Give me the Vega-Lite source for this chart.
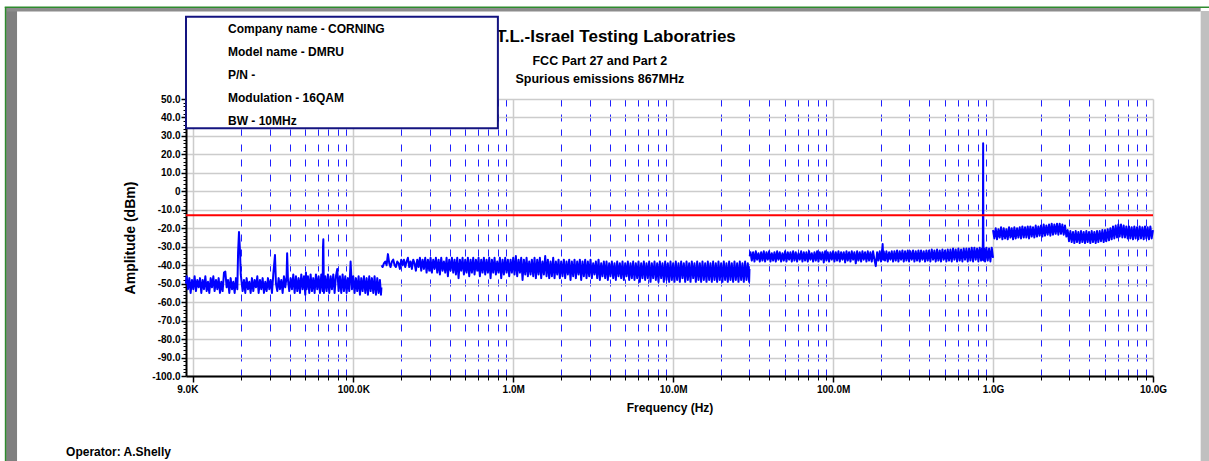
{
"$schema": "https://vega.github.io/schema/vega-lite/v6.json",
"width": 967,
"height": 277,
"autosize": {"type": "none"},
"padding": {"left": 186, "top": 99, "right": 56, "bottom": 85},
"background": "#ffffff",
"config": {"view": {"stroke": null}, "font": "Liberation Sans"},
"datasets": {
"trace": [
{"f":9000,"a":-50,"s":1},{"f":9085,"a":-46,"s":1},{"f":9261,"a":-53,"s":1},{"f":9441,"a":-47,"s":1},{"f":9624,"a":-55,"s":1},{"f":9810,"a":-48,"s":1},{"f":10000,"a":-53,"s":1},{"f":10190,"a":-46,"s":1},{"f":10390,"a":-54,"s":1},{"f":10590,"a":-48,"s":1},{"f":10800,"a":-52,"s":1},{"f":11010,"a":-47,"s":1},{"f":11220,"a":-55,"s":1},{"f":11440,"a":-48,"s":1},{"f":11660,"a":-53,"s":1},{"f":11890,"a":-46,"s":1},{"f":12120,"a":-54,"s":1},{"f":12350,"a":-49,"s":1},{"f":12590,"a":-55,"s":1},{"f":12840,"a":-47,"s":1},{"f":13080,"a":-52,"s":1},{"f":13340,"a":-46,"s":1},{"f":13590,"a":-54,"s":1},{"f":13860,"a":-48,"s":1},{"f":14130,"a":-53,"s":1},{"f":14400,"a":-47,"s":1},{"f":14680,"a":-55,"s":1},{"f":14960,"a":-49,"s":1},{"f":15250,"a":-54,"s":1},{"f":15550,"a":-44,"s":1},{"f":15850,"a":-43.5,"s":1},{"f":16160,"a":-52,"s":1},{"f":16470,"a":-48,"s":1},{"f":16790,"a":-55,"s":1},{"f":17110,"a":-47,"s":1},{"f":17450,"a":-53,"s":1},{"f":17780,"a":-49,"s":1},{"f":18130,"a":-55,"s":1},{"f":18480,"a":-47,"s":1},{"f":18840,"a":-53,"s":1},{"f":19050,"a":-33,"s":1},{"f":19300,"a":-22,"s":1},{"f":19550,"a":-31,"s":1},{"f":19800,"a":-45,"s":1},{"f":20340,"a":-54,"s":1},{"f":20730,"a":-48,"s":1},{"f":21130,"a":-55,"s":1},{"f":21540,"a":-47,"s":1},{"f":21960,"a":-53,"s":1},{"f":22390,"a":-49,"s":1},{"f":22820,"a":-55,"s":1},{"f":23260,"a":-47,"s":1},{"f":23710,"a":-54,"s":1},{"f":24170,"a":-48,"s":1},{"f":24640,"a":-52,"s":1},{"f":25120,"a":-46,"s":1},{"f":25610,"a":-55,"s":1},{"f":26100,"a":-48,"s":1},{"f":26610,"a":-53,"s":1},{"f":27120,"a":-47,"s":1},{"f":27650,"a":-55,"s":1},{"f":28180,"a":-49,"s":1},{"f":28730,"a":-54,"s":1},{"f":29290,"a":-47,"s":1},{"f":29850,"a":-53,"s":1},{"f":30430,"a":-48,"s":1},{"f":31020,"a":-55,"s":1},{"f":31620,"a":-45,"s":1},{"f":32000,"a":-40,"s":1},{"f":32400,"a":-34.5,"s":1},{"f":32860,"a":-50,"s":1},{"f":33500,"a":-54,"s":1},{"f":34150,"a":-47,"s":1},{"f":34810,"a":-53,"s":1},{"f":35480,"a":-48,"s":1},{"f":36170,"a":-55,"s":1},{"f":36870,"a":-46,"s":1},{"f":37580,"a":-52,"s":1},{"f":38310,"a":-46,"s":1},{"f":38600,"a":-33.5,"s":1},{"f":39050,"a":-48,"s":1},{"f":39810,"a":-54,"s":1},{"f":40580,"a":-47,"s":1},{"f":41370,"a":-53,"s":1},{"f":42170,"a":-45,"s":1},{"f":42990,"a":-55,"s":1},{"f":43820,"a":-46,"s":1},{"f":44670,"a":-54,"s":1},{"f":45530,"a":-47,"s":1},{"f":46420,"a":-55,"s":1},{"f":47320,"a":-45,"s":1},{"f":48230,"a":-53,"s":1},{"f":49170,"a":-46,"s":1},{"f":50120,"a":-56,"s":1},{"f":50600,"a":-44,"s":1},{"f":51090,"a":-53,"s":1},{"f":52080,"a":-46,"s":1},{"f":53090,"a":-55,"s":1},{"f":54120,"a":-45,"s":1},{"f":55170,"a":-54,"s":1},{"f":56230,"a":-47,"s":1},{"f":57320,"a":-55,"s":1},{"f":58430,"a":-45,"s":1},{"f":59570,"a":-53,"s":1},{"f":60720,"a":-46,"s":1},{"f":61900,"a":-55,"s":1},{"f":63100,"a":-45,"s":1},{"f":64320,"a":-54,"s":1},{"f":64700,"a":-30,"s":1},{"f":65000,"a":-26,"s":1},{"f":65300,"a":-44,"s":1},{"f":65560,"a":-55,"s":1},{"f":66830,"a":-46,"s":1},{"f":68130,"a":-54,"s":1},{"f":69450,"a":-45,"s":1},{"f":70790,"a":-55,"s":1},{"f":72170,"a":-46,"s":1},{"f":73560,"a":-53,"s":1},{"f":74990,"a":-45,"s":1},{"f":76440,"a":-55,"s":1},{"f":77920,"a":-46,"s":1},{"f":79430,"a":-42,"s":1},{"f":80970,"a":-54,"s":1},{"f":82540,"a":-46,"s":1},{"f":84140,"a":-55,"s":1},{"f":85770,"a":-45,"s":1},{"f":87430,"a":-54,"s":1},{"f":89130,"a":-46,"s":1},{"f":90850,"a":-55,"s":1},{"f":92610,"a":-47,"s":1},{"f":94410,"a":-54,"s":1},{"f":96240,"a":-38,"s":1},{"f":98100,"a":-53,"s":1},{"f":100000,"a":-46,"s":1},{"f":101900,"a":-55,"s":1},{"f":103900,"a":-47,"s":1},{"f":105900,"a":-54,"s":1},{"f":108000,"a":-46,"s":1},{"f":110100,"a":-56,"s":1},{"f":112200,"a":-47,"s":1},{"f":114400,"a":-54,"s":1},{"f":116600,"a":-46,"s":1},{"f":118900,"a":-55,"s":1},{"f":121200,"a":-47,"s":1},{"f":123500,"a":-56,"s":1},{"f":125900,"a":-46,"s":1},{"f":128400,"a":-54,"s":1},{"f":130800,"a":-47,"s":1},{"f":133400,"a":-55,"s":1},{"f":135900,"a":-46,"s":1},{"f":138600,"a":-56,"s":1},{"f":141300,"a":-47,"s":1},{"f":144000,"a":-55,"s":1},{"f":146800,"a":-48,"s":1},{"f":149000,"a":-56,"s":1},{"f":150000,"a":-52,"s":1},
{"f":150500,"a":-40,"s":2},{"f":152500,"a":-41,"s":2},{"f":155500,"a":-39,"s":2},{"f":158500,"a":-38,"s":2},{"f":161600,"a":-40,"s":2},{"f":164700,"a":-34,"s":2},{"f":167900,"a":-39,"s":2},{"f":171100,"a":-41,"s":2},{"f":174400,"a":-38,"s":2},{"f":177800,"a":-37,"s":2},{"f":181300,"a":-40,"s":2},{"f":184800,"a":-41,"s":2},{"f":188400,"a":-38,"s":2},{"f":192000,"a":-39,"s":2},{"f":195700,"a":-42,"s":2},{"f":199500,"a":-37,"s":2},{"f":203400,"a":-40,"s":2},{"f":207300,"a":-37,"s":2},{"f":211300,"a":-41,"s":2},{"f":215400,"a":-38,"s":2},{"f":219600,"a":-36,"s":2},{"f":223900,"a":-41,"s":2},{"f":228200,"a":-38,"s":2},{"f":232600,"a":-42,"s":2},{"f":237100,"a":-37,"s":2},{"f":241700,"a":-39,"s":2},{"f":246400,"a":-43,"s":2},{"f":251200,"a":-37,"s":2},{"f":256100,"a":-41,"s":2},{"f":261000,"a":-36,"s":2},{"f":266100,"a":-43,"s":2},{"f":271200,"a":-37,"s":2},{"f":276500,"a":-42,"s":2},{"f":281800,"a":-36,"s":2},{"f":287300,"a":-44,"s":2},{"f":292900,"a":-37,"s":2},{"f":298500,"a":-43,"s":2},{"f":304300,"a":-36,"s":2},{"f":310200,"a":-44,"s":2},{"f":316200,"a":-37,"s":2},{"f":322400,"a":-42,"s":2},{"f":328600,"a":-36,"s":2},{"f":335000,"a":-44,"s":2},{"f":341500,"a":-37,"s":2},{"f":348100,"a":-45,"s":2},{"f":354800,"a":-36,"s":2},{"f":361700,"a":-43,"s":2},{"f":368700,"a":-38,"s":2},{"f":375800,"a":-44,"s":2},{"f":383100,"a":-36,"s":2},{"f":390500,"a":-46,"s":2},{"f":398100,"a":-37,"s":2},{"f":405800,"a":-43,"s":2},{"f":413700,"a":-36,"s":2},{"f":421700,"a":-44,"s":2},{"f":429900,"a":-37,"s":2},{"f":438200,"a":-45,"s":2},{"f":446700,"a":-36,"s":2},{"f":455300,"a":-47,"s":2},{"f":464200,"a":-37,"s":2},{"f":473200,"a":-43,"s":2},{"f":482300,"a":-36,"s":2},{"f":491700,"a":-45,"s":2},{"f":501200,"a":-37,"s":2},{"f":510900,"a":-44,"s":2},{"f":520800,"a":-36,"s":2},{"f":530900,"a":-46,"s":2},{"f":541200,"a":-37,"s":2},{"f":551700,"a":-44,"s":2},{"f":562300,"a":-36,"s":2},{"f":573200,"a":-45,"s":2},{"f":584300,"a":-37,"s":2},{"f":595700,"a":-43,"s":2},{"f":607200,"a":-36,"s":2},{"f":619000,"a":-46,"s":2},{"f":631000,"a":-37,"s":2},{"f":643200,"a":-44,"s":2},{"f":655600,"a":-36,"s":2},{"f":668300,"a":-45,"s":2},{"f":681300,"a":-37,"s":2},{"f":694500,"a":-44,"s":2},{"f":707900,"a":-36,"s":2},{"f":721700,"a":-47,"s":2},{"f":735600,"a":-37,"s":2},{"f":749900,"a":-44,"s":2},{"f":764400,"a":-36,"s":2},{"f":779200,"a":-45,"s":2},{"f":794300,"a":-38,"s":2},{"f":809700,"a":-44,"s":2},{"f":825400,"a":-36,"s":2},{"f":841400,"a":-47,"s":2},{"f":857700,"a":-37,"s":2},{"f":874300,"a":-45,"s":2},{"f":891300,"a":-36,"s":2},{"f":908500,"a":-44,"s":2},{"f":926100,"a":-37,"s":2},{"f":944100,"a":-46,"s":2},{"f":962400,"a":-37,"s":2},{"f":981000,"a":-44,"s":2},
{"f":1000000,"a":-36,"s":2},{"f":1019000,"a":-45,"s":2},{"f":1039000,"a":-35,"s":2},{"f":1059000,"a":-46,"s":2},{"f":1080000,"a":-37,"s":2},{"f":1101000,"a":-44,"s":2},{"f":1122000,"a":-36,"s":2},{"f":1144000,"a":-48,"s":2},{"f":1166000,"a":-37,"s":2},{"f":1189000,"a":-45,"s":2},{"f":1212000,"a":-36,"s":2},{"f":1235000,"a":-46,"s":2},{"f":1259000,"a":-38,"s":2},{"f":1284000,"a":-45,"s":2},{"f":1308000,"a":-37,"s":2},{"f":1334000,"a":-46,"s":2},{"f":1359000,"a":-36,"s":2},{"f":1386000,"a":-47,"s":2},{"f":1413000,"a":-37,"s":2},{"f":1440000,"a":-45,"s":2},{"f":1468000,"a":-36,"s":2},{"f":1496000,"a":-47,"s":2},{"f":1525000,"a":-38,"s":2},{"f":1555000,"a":-45,"s":2},{"f":1585000,"a":-35,"s":2},{"f":1616000,"a":-46,"s":2},{"f":1647000,"a":-37,"s":2},{"f":1679000,"a":-47,"s":2},{"f":1711000,"a":-38,"s":2},{"f":1745000,"a":-46,"s":2},{"f":1778000,"a":-36,"s":2},{"f":1813000,"a":-47,"s":2},{"f":1848000,"a":-38,"s":2},{"f":1884000,"a":-45,"s":2},{"f":1920000,"a":-37,"s":2},{"f":1957000,"a":-47,"s":2},{"f":1995000,"a":-38,"s":2},{"f":2034000,"a":-46,"s":2},{"f":2073000,"a":-37,"s":2},{"f":2113000,"a":-47,"s":2},{"f":2154000,"a":-38,"s":2},{"f":2196000,"a":-45,"s":2},{"f":2239000,"a":-37,"s":2},{"f":2282000,"a":-48,"s":2},{"f":2326000,"a":-38,"s":2},{"f":2371000,"a":-46,"s":2},{"f":2417000,"a":-37,"s":2},{"f":2464000,"a":-47,"s":2},{"f":2512000,"a":-38,"s":2},{"f":2561000,"a":-45,"s":2},{"f":2610000,"a":-37,"s":2},{"f":2661000,"a":-48,"s":2},{"f":2712000,"a":-38,"s":2},{"f":2765000,"a":-46,"s":2},{"f":2818000,"a":-37,"s":2},{"f":2873000,"a":-47,"s":2},{"f":2929000,"a":-38,"s":2},{"f":2985000,"a":-46,"s":2},{"f":3043000,"a":-37,"s":2},{"f":3102000,"a":-47,"s":2},{"f":3162000,"a":-39,"s":2},{"f":3224000,"a":-45,"s":2},{"f":3286000,"a":-38,"s":2},{"f":3350000,"a":-47,"s":2},{"f":3415000,"a":-37,"s":2},{"f":3481000,"a":-48,"s":2},{"f":3548000,"a":-39,"s":2},{"f":3617000,"a":-46,"s":2},{"f":3687000,"a":-38,"s":2},{"f":3758000,"a":-47,"s":2},{"f":3831000,"a":-38,"s":2},{"f":3905000,"a":-48,"s":2},{"f":3981000,"a":-39,"s":2},{"f":4058000,"a":-46,"s":2},{"f":4137000,"a":-38,"s":2},{"f":4217000,"a":-47,"s":2},{"f":4299000,"a":-39,"s":2},{"f":4382000,"a":-48,"s":2},{"f":4467000,"a":-38,"s":2},{"f":4553000,"a":-46,"s":2},{"f":4642000,"a":-39,"s":2},{"f":4732000,"a":-47,"s":2},{"f":4823000,"a":-38,"s":2},{"f":4917000,"a":-48,"s":2},{"f":5012000,"a":-39,"s":2},{"f":5109000,"a":-46,"s":2},{"f":5208000,"a":-38,"s":2},{"f":5309000,"a":-48,"s":2},{"f":5412000,"a":-39,"s":2},{"f":5517000,"a":-47,"s":2},{"f":5623000,"a":-38,"s":2},{"f":5732000,"a":-48,"s":2},{"f":5843000,"a":-39,"s":2},{"f":5957000,"a":-47,"s":2},{"f":6072000,"a":-38,"s":2},{"f":6190000,"a":-49,"s":2},{"f":6310000,"a":-39,"s":2},{"f":6432000,"a":-47,"s":2},{"f":6556000,"a":-38,"s":2},{"f":6683000,"a":-48,"s":2},{"f":6813000,"a":-39,"s":2},{"f":6945000,"a":-47,"s":2},{"f":7079000,"a":-38,"s":2},{"f":7217000,"a":-49,"s":2},{"f":7356000,"a":-39,"s":2},{"f":7499000,"a":-47,"s":2},{"f":7644000,"a":-38,"s":2},{"f":7792000,"a":-48,"s":2},{"f":7943000,"a":-39,"s":2},{"f":8097000,"a":-49,"s":2},{"f":8254000,"a":-38,"s":2},{"f":8414000,"a":-47,"s":2},{"f":8577000,"a":-39,"s":2},{"f":8743000,"a":-49,"s":2},{"f":8913000,"a":-38,"s":2},{"f":9085000,"a":-48,"s":2},{"f":9261000,"a":-39,"s":2},{"f":9441000,"a":-49,"s":2},{"f":9624000,"a":-38,"s":2},{"f":9810000,"a":-48,"s":2},
{"f":10000000,"a":-39,"s":2},{"f":10190000,"a":-49,"s":2},{"f":10390000,"a":-38,"s":2},{"f":10590000,"a":-48,"s":2},{"f":10800000,"a":-39,"s":2},{"f":11010000,"a":-49,"s":2},{"f":11220000,"a":-38,"s":2},{"f":11440000,"a":-47,"s":2},{"f":11660000,"a":-39,"s":2},{"f":11890000,"a":-49,"s":2},{"f":12120000,"a":-38,"s":2},{"f":12350000,"a":-48,"s":2},{"f":12590000,"a":-39,"s":2},{"f":12840000,"a":-49,"s":2},{"f":13080000,"a":-38,"s":2},{"f":13340000,"a":-47,"s":2},{"f":13590000,"a":-39,"s":2},{"f":13860000,"a":-49,"s":2},{"f":14130000,"a":-38,"s":2},{"f":14400000,"a":-48,"s":2},{"f":14680000,"a":-39,"s":2},{"f":14960000,"a":-49,"s":2},{"f":15250000,"a":-38,"s":2},{"f":15550000,"a":-48,"s":2},{"f":15850000,"a":-39,"s":2},{"f":16160000,"a":-49,"s":2},{"f":16470000,"a":-38,"s":2},{"f":16790000,"a":-48,"s":2},{"f":17110000,"a":-39,"s":2},{"f":17450000,"a":-49,"s":2},{"f":17780000,"a":-38,"s":2},{"f":18130000,"a":-48,"s":2},{"f":18480000,"a":-39,"s":2},{"f":18840000,"a":-49,"s":2},{"f":19200000,"a":-38,"s":2},{"f":19570000,"a":-48,"s":2},{"f":19950000,"a":-39,"s":2},{"f":20340000,"a":-49,"s":2},{"f":20730000,"a":-38,"s":2},{"f":21130000,"a":-48,"s":2},{"f":21540000,"a":-39,"s":2},{"f":21960000,"a":-49,"s":2},{"f":22390000,"a":-38,"s":2},{"f":22820000,"a":-48,"s":2},{"f":23260000,"a":-39,"s":2},{"f":23710000,"a":-49,"s":2},{"f":24170000,"a":-38,"s":2},{"f":24640000,"a":-48,"s":2},{"f":25120000,"a":-39,"s":2},{"f":25610000,"a":-49,"s":2},{"f":26100000,"a":-38,"s":2},{"f":26610000,"a":-48,"s":2},{"f":27120000,"a":-39,"s":2},{"f":27650000,"a":-49,"s":2},{"f":28180000,"a":-38,"s":2},{"f":28730000,"a":-48,"s":2},{"f":29290000,"a":-39,"s":2},{"f":29850000,"a":-49,"s":2},{"f":30000000,"a":-42,"s":2},
{"f":30100000,"a":-35,"s":3},{"f":30430000,"a":-33,"s":3},{"f":31020000,"a":-37.5,"s":3},{"f":31620000,"a":-33,"s":3},{"f":32240000,"a":-38,"s":3},{"f":32860000,"a":-32.5,"s":3},{"f":33500000,"a":-37,"s":3},{"f":34150000,"a":-33.5,"s":3},{"f":34810000,"a":-38,"s":3},{"f":35480000,"a":-33,"s":3},{"f":36170000,"a":-37.5,"s":3},{"f":36870000,"a":-32.5,"s":3},{"f":37580000,"a":-38,"s":3},{"f":38310000,"a":-33,"s":3},{"f":39050000,"a":-37,"s":3},{"f":39810000,"a":-32.5,"s":3},{"f":40580000,"a":-38,"s":3},{"f":41370000,"a":-33.5,"s":3},{"f":42170000,"a":-37.5,"s":3},{"f":42990000,"a":-33,"s":3},{"f":43820000,"a":-38,"s":3},{"f":44670000,"a":-32.5,"s":3},{"f":45530000,"a":-37,"s":3},{"f":46420000,"a":-33,"s":3},{"f":47320000,"a":-38,"s":3},{"f":48230000,"a":-33.5,"s":3},{"f":49170000,"a":-37.5,"s":3},{"f":50120000,"a":-32.5,"s":3},{"f":51090000,"a":-38,"s":3},{"f":52080000,"a":-33,"s":3},{"f":53090000,"a":-37,"s":3},{"f":54120000,"a":-33,"s":3},{"f":55170000,"a":-38,"s":3},{"f":56230000,"a":-32.5,"s":3},{"f":57320000,"a":-37.5,"s":3},{"f":58430000,"a":-33,"s":3},{"f":59570000,"a":-38,"s":3},{"f":60720000,"a":-33.5,"s":3},{"f":61900000,"a":-37,"s":3},{"f":63100000,"a":-32.5,"s":3},{"f":64320000,"a":-38,"s":3},{"f":65560000,"a":-33,"s":3},{"f":66830000,"a":-37.5,"s":3},{"f":68130000,"a":-33,"s":3},{"f":69450000,"a":-38,"s":3},{"f":70790000,"a":-32.5,"s":3},{"f":72170000,"a":-37,"s":3},{"f":73560000,"a":-33.5,"s":3},{"f":74990000,"a":-38,"s":3},{"f":76440000,"a":-33,"s":3},{"f":77920000,"a":-37.5,"s":3},{"f":79430000,"a":-32.5,"s":3},{"f":80970000,"a":-38,"s":3},{"f":82540000,"a":-33,"s":3},{"f":84140000,"a":-37,"s":3},{"f":85770000,"a":-33,"s":3},{"f":87430000,"a":-38.5,"s":3},{"f":89130000,"a":-32.5,"s":3},{"f":90850000,"a":-37.5,"s":3},{"f":92610000,"a":-33,"s":3},{"f":94410000,"a":-38,"s":3},{"f":96240000,"a":-33,"s":3},{"f":98100000,"a":-37,"s":3},
{"f":100000000,"a":-32.5,"s":3},{"f":101900000,"a":-38,"s":3},{"f":103900000,"a":-33,"s":3},{"f":105900000,"a":-37.5,"s":3},{"f":108000000,"a":-32.5,"s":3},{"f":110100000,"a":-38,"s":3},{"f":112200000,"a":-33,"s":3},{"f":114400000,"a":-37,"s":3},{"f":116600000,"a":-33,"s":3},{"f":118900000,"a":-38.5,"s":3},{"f":121200000,"a":-32.5,"s":3},{"f":123500000,"a":-37.5,"s":3},{"f":125900000,"a":-33,"s":3},{"f":128400000,"a":-38,"s":3},{"f":130800000,"a":-32.5,"s":3},{"f":133400000,"a":-37,"s":3},{"f":135900000,"a":-33,"s":3},{"f":138600000,"a":-39,"s":3},{"f":141300000,"a":-32.5,"s":3},{"f":144000000,"a":-37.5,"s":3},{"f":146800000,"a":-33,"s":3},{"f":149700000,"a":-38,"s":3},{"f":152500000,"a":-32.5,"s":3},{"f":155500000,"a":-37,"s":3},{"f":158500000,"a":-33,"s":3},{"f":161600000,"a":-38,"s":3},{"f":164700000,"a":-32.5,"s":3},{"f":167900000,"a":-37.5,"s":3},{"f":171100000,"a":-33,"s":3},{"f":174400000,"a":-38,"s":3},{"f":177800000,"a":-32.5,"s":3},{"f":181300000,"a":-37,"s":3},{"f":184800000,"a":-40.5,"s":3},{"f":188400000,"a":-33,"s":3},{"f":192000000,"a":-37.5,"s":3},{"f":195700000,"a":-32.5,"s":3},{"f":199500000,"a":-38,"s":3},{"f":202000000,"a":-33,"s":3},{"f":204000000,"a":-28.5,"s":3},{"f":206000000,"a":-37,"s":3},{"f":207300000,"a":-32.5,"s":3},{"f":211300000,"a":-37.5,"s":3},{"f":215400000,"a":-32.5,"s":3},{"f":219600000,"a":-38,"s":3},{"f":223900000,"a":-33,"s":3},{"f":228200000,"a":-37,"s":3},{"f":232600000,"a":-32.5,"s":3},{"f":237100000,"a":-38,"s":3},{"f":241700000,"a":-32.5,"s":3},{"f":246400000,"a":-37.5,"s":3},{"f":251200000,"a":-32,"s":3},{"f":256100000,"a":-38,"s":3},{"f":261000000,"a":-32.5,"s":3},{"f":266100000,"a":-37,"s":3},{"f":271200000,"a":-32,"s":3},{"f":276500000,"a":-38,"s":3},{"f":281800000,"a":-32.5,"s":3},{"f":287300000,"a":-37.5,"s":3},{"f":292900000,"a":-32,"s":3},{"f":298500000,"a":-38,"s":3},{"f":304300000,"a":-32.5,"s":3},{"f":310200000,"a":-37,"s":3},{"f":316200000,"a":-32,"s":3},{"f":322400000,"a":-38,"s":3},{"f":328600000,"a":-32.5,"s":3},{"f":335000000,"a":-37.5,"s":3},{"f":341500000,"a":-32,"s":3},{"f":348100000,"a":-38,"s":3},{"f":354800000,"a":-32,"s":3},{"f":361700000,"a":-37,"s":3},{"f":368700000,"a":-32.5,"s":3},{"f":375800000,"a":-38,"s":3},{"f":383100000,"a":-32,"s":3},{"f":390500000,"a":-37.5,"s":3},{"f":398100000,"a":-32,"s":3},{"f":405800000,"a":-38,"s":3},{"f":413700000,"a":-31.5,"s":3},{"f":421700000,"a":-37,"s":3},{"f":429900000,"a":-32,"s":3},{"f":438200000,"a":-38,"s":3},{"f":446700000,"a":-31.5,"s":3},{"f":455300000,"a":-37.5,"s":3},{"f":464200000,"a":-32,"s":3},{"f":473200000,"a":-38,"s":3},{"f":482300000,"a":-31.5,"s":3},{"f":491700000,"a":-37,"s":3},{"f":501200000,"a":-32,"s":3},{"f":510900000,"a":-38,"s":3},{"f":520800000,"a":-31.5,"s":3},{"f":530900000,"a":-37.5,"s":3},{"f":541200000,"a":-31.5,"s":3},{"f":551700000,"a":-38,"s":3},{"f":562300000,"a":-31,"s":3},{"f":573200000,"a":-37,"s":3},{"f":584300000,"a":-31.5,"s":3},{"f":595700000,"a":-38,"s":3},{"f":607200000,"a":-31,"s":3},{"f":619000000,"a":-37.5,"s":3},{"f":631000000,"a":-31.5,"s":3},{"f":643200000,"a":-38,"s":3},{"f":655600000,"a":-31,"s":3},{"f":668300000,"a":-37,"s":3},{"f":681300000,"a":-31,"s":3},{"f":694500000,"a":-38,"s":3},{"f":707900000,"a":-31,"s":3},{"f":721700000,"a":-37.5,"s":3},{"f":735600000,"a":-30.5,"s":3},{"f":749900000,"a":-38,"s":3},{"f":764400000,"a":-30.5,"s":3},{"f":779200000,"a":-37,"s":3},{"f":794300000,"a":-31,"s":3},{"f":809700000,"a":-38,"s":3},{"f":825400000,"a":-30.5,"s":3},{"f":841400000,"a":-37.5,"s":3},{"f":852000000,"a":-31,"s":3},{"f":860000000,"a":-37,"s":3},{"f":864000000,"a":-25,"s":3},{"f":867000000,"a":26,"s":3},{"f":870000000,"a":-25,"s":3},{"f":874300000,"a":-37.5,"s":3},{"f":880000000,"a":-31,"s":3},{"f":891300000,"a":-38,"s":3},{"f":908500000,"a":-30.5,"s":3},{"f":926100000,"a":-37.5,"s":3},{"f":944100000,"a":-31,"s":3},{"f":962400000,"a":-38,"s":3},{"f":981000000,"a":-30.5,"s":3},{"f":1000000000,"a":-36,"s":3},
{"f":1000000000,"a":-21,"s":4},{"f":1019000000,"a":-25.5,"s":4},{"f":1039000000,"a":-20,"s":4},{"f":1059000000,"a":-26,"s":4},{"f":1080000000,"a":-20.5,"s":4},{"f":1101000000,"a":-25,"s":4},{"f":1122000000,"a":-19.5,"s":4},{"f":1144000000,"a":-26,"s":4},{"f":1166000000,"a":-20,"s":4},{"f":1189000000,"a":-25.5,"s":4},{"f":1212000000,"a":-20.5,"s":4},{"f":1235000000,"a":-26,"s":4},{"f":1259000000,"a":-19.5,"s":4},{"f":1284000000,"a":-25,"s":4},{"f":1308000000,"a":-20,"s":4},{"f":1334000000,"a":-26,"s":4},{"f":1359000000,"a":-19.5,"s":4},{"f":1386000000,"a":-25.5,"s":4},{"f":1413000000,"a":-20,"s":4},{"f":1440000000,"a":-25,"s":4},{"f":1468000000,"a":-19.5,"s":4},{"f":1496000000,"a":-25.5,"s":4},{"f":1525000000,"a":-19,"s":4},{"f":1555000000,"a":-25,"s":4},{"f":1585000000,"a":-19.5,"s":4},{"f":1616000000,"a":-25,"s":4},{"f":1647000000,"a":-19,"s":4},{"f":1679000000,"a":-25.5,"s":4},{"f":1711000000,"a":-19,"s":4},{"f":1745000000,"a":-24.5,"s":4},{"f":1778000000,"a":-19.5,"s":4},{"f":1813000000,"a":-25,"s":4},{"f":1848000000,"a":-18.5,"s":4},{"f":1884000000,"a":-24.5,"s":4},{"f":1920000000,"a":-19,"s":4},{"f":1957000000,"a":-24,"s":4},{"f":1995000000,"a":-18.5,"s":4},{"f":2034000000,"a":-24.5,"s":4},{"f":2073000000,"a":-18,"s":4},{"f":2113000000,"a":-24,"s":4},{"f":2154000000,"a":-18.5,"s":4},{"f":2196000000,"a":-23.5,"s":4},{"f":2239000000,"a":-18,"s":4},{"f":2282000000,"a":-24,"s":4},{"f":2326000000,"a":-17.5,"s":4},{"f":2371000000,"a":-23.5,"s":4},{"f":2417000000,"a":-18,"s":4},{"f":2464000000,"a":-23,"s":4},{"f":2512000000,"a":-17.5,"s":4},{"f":2561000000,"a":-23.5,"s":4},{"f":2610000000,"a":-17.5,"s":4},{"f":2661000000,"a":-23,"s":4},{"f":2712000000,"a":-18,"s":4},{"f":2765000000,"a":-23.5,"s":4},{"f":2818000000,"a":-18.5,"s":4},{"f":2873000000,"a":-24.5,"s":4},{"f":2929000000,"a":-21,"s":4},{"f":2985000000,"a":-27,"s":4},{"f":3043000000,"a":-21.5,"s":4},{"f":3102000000,"a":-27.5,"s":4},{"f":3162000000,"a":-22,"s":4},{"f":3224000000,"a":-28,"s":4},{"f":3286000000,"a":-21.5,"s":4},{"f":3350000000,"a":-27.5,"s":4},{"f":3415000000,"a":-22,"s":4},{"f":3481000000,"a":-28,"s":4},{"f":3548000000,"a":-21.5,"s":4},{"f":3617000000,"a":-27.5,"s":4},{"f":3687000000,"a":-22,"s":4},{"f":3758000000,"a":-28,"s":4},{"f":3831000000,"a":-21.5,"s":4},{"f":3905000000,"a":-27.5,"s":4},{"f":3981000000,"a":-22,"s":4},{"f":4058000000,"a":-28,"s":4},{"f":4137000000,"a":-21.5,"s":4},{"f":4217000000,"a":-27.5,"s":4},{"f":4299000000,"a":-22,"s":4},{"f":4382000000,"a":-28,"s":4},{"f":4467000000,"a":-21.5,"s":4},{"f":4553000000,"a":-27.5,"s":4},{"f":4642000000,"a":-21.5,"s":4},{"f":4732000000,"a":-27,"s":4},{"f":4823000000,"a":-21,"s":4},{"f":4917000000,"a":-27.5,"s":4},{"f":5012000000,"a":-21,"s":4},{"f":5109000000,"a":-27,"s":4},{"f":5208000000,"a":-20.5,"s":4},{"f":5309000000,"a":-26.5,"s":4},{"f":5412000000,"a":-20,"s":4},{"f":5517000000,"a":-26,"s":4},{"f":5623000000,"a":-19,"s":4},{"f":5732000000,"a":-25.5,"s":4},{"f":5843000000,"a":-18.5,"s":4},{"f":5957000000,"a":-25,"s":4},{"f":6072000000,"a":-18,"s":4},{"f":6190000000,"a":-24.5,"s":4},{"f":6310000000,"a":-18,"s":4},{"f":6432000000,"a":-25,"s":4},{"f":6556000000,"a":-18.5,"s":4},{"f":6683000000,"a":-25,"s":4},{"f":6813000000,"a":-19,"s":4},{"f":6945000000,"a":-25.5,"s":4},{"f":7079000000,"a":-19,"s":4},{"f":7217000000,"a":-25.5,"s":4},{"f":7356000000,"a":-19.5,"s":4},{"f":7499000000,"a":-26,"s":4},{"f":7644000000,"a":-19,"s":4},{"f":7792000000,"a":-25.5,"s":4},{"f":7943000000,"a":-19.5,"s":4},{"f":8097000000,"a":-26,"s":4},{"f":8254000000,"a":-19,"s":4},{"f":8414000000,"a":-25.5,"s":4},{"f":8577000000,"a":-19.5,"s":4},{"f":8743000000,"a":-26,"s":4},{"f":8913000000,"a":-19,"s":4},{"f":9085000000,"a":-25.5,"s":4},{"f":9261000000,"a":-19.5,"s":4},{"f":9441000000,"a":-26,"s":4},{"f":9624000000,"a":-19,"s":4},{"f":9810000000,"a":-25.5,"s":4},{"f":10000000000,"a":-21,"s":4}
]
},
"resolve": {"scale": {"x": "independent", "y": "independent"}},
"layer": [
{
"layer": [
{"data": {"name": "trace"}, "mark": {"type": "line", "color": "#0000ff", "strokeWidth": 2, "strokeJoin": "round"},
 "encoding": {
  "x": {"field": "f", "type": "quantitative", "scale": {"type": "log", "domain": [9000, 10000000000], "nice": false},
   "axis": {"orient": "bottom", "values": [10000, 100000, 1000000, 10000000, 100000000, 1000000000, 10000000000], "tickCount": 200,
    "labelExpr": "datum.value < 2e4 ? '9.0K' : datum.value < 2e5 ? '100.0K' : datum.value < 2e6 ? '1.0M' : datum.value < 2e7 ? '10.0M' : datum.value < 2e8 ? '100.0M' : datum.value < 2e9 ? '1.0G' : '10.0G'",
    "labelOffset": {"condition": {"test": "datum.value < 20000", "value": -6}, "value": 0},
    "title": "Frequency (Hz)", "grid": true, "gridColor": "#cccccc", "gridWidth": 1.5,
    "domainColor": "#000000", "domainWidth": 2, "tickColor": "#000000", "tickSize": 6, "tickWidth": 1.5,
    "labelFont": "Liberation Sans", "labelFontSize": 10, "labelFontWeight": "bold", "labelColor": "#000000", "labelPadding": 2, "labelFlush": false, "labelOverlap": false,
    "titleFont": "Liberation Sans", "titleFontSize": 12, "titleFontWeight": "bold", "titleColor": "#000000", "titlePadding": 8}},
  "y": {"field": "a", "type": "quantitative", "scale": {"domain": [-100, 50], "nice": false, "zero": false},
   "axis": {"orient": "left", "values": [-100, -90, -80, -70, -60, -50, -40, -30, -20, -10, 0, 10, 20, 30, 40, 50], "tickCount": 200,
    "labelExpr": "datum.value == 0 ? '0' : (datum.value < 0 ? '-' : '') + format(abs(datum.value), '.1f')",
    "title": "Amplitude (dBm)", "grid": true, "gridColor": "#cccccc", "gridWidth": 1.5,
    "domainColor": "#000000", "domainWidth": 2, "tickColor": "#000000", "tickSize": 5, "tickWidth": 1.5,
    "labelFont": "Liberation Sans", "labelFontSize": 10, "labelFontWeight": "bold", "labelColor": "#000000", "labelPadding": 1, "labelOverlap": false,
    "titleFont": "Liberation Sans", "titleFontSize": 14, "titleFontWeight": "bold", "titleColor": "#000000", "titlePadding": 14}},
  "detail": {"field": "s", "type": "nominal"}}},
{"data": {"values": [{}]}, "mark": {"type": "rect", "color": "#808080"},
 "encoding": {"x": {"datum": 675, "type": "quantitative"}, "x2": {"datum": 790.5}, "y": {"datum": 99.28, "type": "quantitative"}, "y2": {"datum": -151}}},
{"data": {"values": [{}]}, "mark": {"type": "rect", "color": "#8c8c8c"},
 "encoding": {"x": {"datum": 675, "type": "quantitative"}, "x2": {"datum": 19860000000}, "y": {"datum": 99.28, "type": "quantitative"}, "y2": {"datum": 97.38}}},
{"data": {"values": [{}]}, "mark": {"type": "rect", "color": "#c0c0c0"},
 "encoding": {"x": {"datum": 19860000000, "type": "quantitative"}, "x2": {"datum": 22600000000}, "y": {"datum": 97.65, "type": "quantitative"}, "y2": {"datum": -151}}},
{"data": {"values": [{}]}, "mark": {"type": "rule", "color": "#2e8b2e", "strokeWidth": 1.5},
 "encoding": {"x": {"datum": 662, "type": "quantitative"}, "x2": {"datum": 22600000000}, "y": {"datum": 99.66, "type": "quantitative"}}},
{"data": {"values": [{}]}, "mark": {"type": "rule", "color": "#2e8b2e", "strokeWidth": 1.5},
 "encoding": {"x": {"datum": 670, "type": "quantitative"}, "y": {"datum": 99.66, "type": "quantitative"}, "y2": {"datum": -151}}},
{"data": {"values": [{}]}, "mark": {"type": "text", "text": "I.T.L.-Israel Testing Laboratries", "align": "right", "baseline": "alphabetic", "font": "Liberation Sans", "fontSize": 17, "fontWeight": "bold", "color": "#000000"},
 "encoding": {"x": {"datum": 24646000, "type": "quantitative"}, "y": {"datum": 81.03, "type": "quantitative"}}},
{"data": {"values": [{}]}, "mark": {"type": "text", "text": "FCC Part 27 and Part 2", "align": "center", "baseline": "alphabetic", "font": "Liberation Sans", "fontSize": 12.5, "fontWeight": "bold", "color": "#000000"},
 "encoding": {"x": {"datum": 3480400, "type": "quantitative"}, "y": {"datum": 68.41, "type": "quantitative"}}},
{"data": {"values": [{}]}, "mark": {"type": "text", "text": "Spurious emissions 867MHz", "align": "center", "baseline": "alphabetic", "font": "Liberation Sans", "fontSize": 12.5, "fontWeight": "bold", "color": "#000000"},
 "encoding": {"x": {"datum": 3480400, "type": "quantitative"}, "y": {"datum": 58.5, "type": "quantitative"}}},
{"data": {"values": [{}]}, "mark": {"type": "rect", "fill": "#ffffff", "stroke": "#141480", "strokeWidth": 2},
 "encoding": {"x": {"datum": 9000, "type": "quantitative"}, "x2": {"datum": 802100}, "y": {"datum": 34.13, "type": "quantitative"}, "y2": {"datum": 94.57}}},
{"data": {"values": [{}]}, "mark": {"type": "text", "text": ["Company name - CORNING", "Model name - DMRU", "P/N -", "Modulation - 16QAM", "BW - 10MHz"], "lineHeight": 23, "align": "left", "baseline": "middle", "font": "Liberation Sans", "fontSize": 12, "fontWeight": "bold", "color": "#000000"},
 "encoding": {"x": {"datum": 16469, "type": "quantitative"}, "y": {"datum": 87.74, "type": "quantitative"}}},
{"data": {"values": [{}]}, "mark": {"type": "text", "text": "Operator: A.Shelly", "align": "left", "baseline": "middle", "font": "Liberation Sans", "fontSize": 12, "fontWeight": "bold", "color": "#000000"},
 "encoding": {"x": {"datum": 1600.5, "type": "quantitative"}, "y": {"datum": -140.99, "type": "quantitative"}}}
]
},
{
"data": {"values": [{}]},
"mark": {"type": "rule", "color": "#ff0000", "strokeWidth": 2},
"encoding": {
 "x": {"datum": 9000, "type": "quantitative", "scale": {"type": "log", "domain": [9000, 10000000000], "nice": false},
  "axis": {"orient": "bottom", "values": [2e4,3e4,4e4,5e4,6e4,7e4,8e4,9e4,2e5,3e5,4e5,5e5,6e5,7e5,8e5,9e5,2e6,3e6,4e6,5e6,6e6,7e6,8e6,9e6,2e7,3e7,4e7,5e7,6e7,7e7,8e7,9e7,2e8,3e8,4e8,5e8,6e8,7e8,8e8,9e8,2e9,3e9,4e9,5e9,6e9,7e9,8e9,9e9], "tickCount": 200,
   "labels": false, "domain": false, "ticks": true, "tickColor": "#000000", "tickSize": 4, "tickWidth": 1,
   "grid": true, "gridColor": "#2020ff", "gridDash": [7, 8], "gridWidth": 1, "title": null}},
 "x2": {"datum": 10000000000},
 "y": {"datum": -13, "type": "quantitative", "scale": {"domain": [-100, 50], "nice": false, "zero": false},
  "axis": {"orient": "left", "values": [-98,-96,-94,-92,-88,-86,-84,-82,-78,-76,-74,-72,-68,-66,-64,-62,-58,-56,-54,-52,-48,-46,-44,-42,-38,-36,-34,-32,-28,-26,-24,-22,-18,-16,-14,-12,-8,-6,-4,-2,2,4,6,8,12,14,16,18,22,24,26,28,32,34,36,38,42,44,46,48], "tickCount": 200,
   "labels": false, "domain": false, "grid": false, "ticks": true, "tickColor": "#000000", "tickSize": 3, "tickWidth": 1, "title": null}}
}
}
]
}
